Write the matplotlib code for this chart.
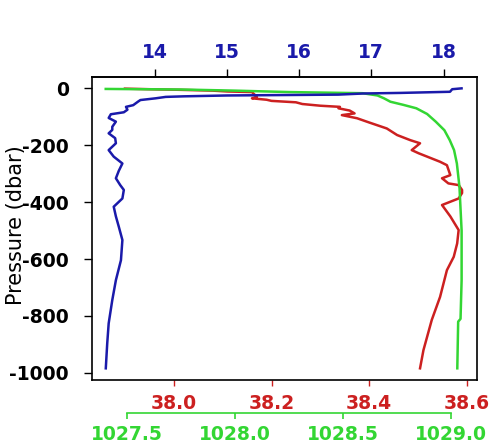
import matplotlib
matplotlib.use("Agg")
from matplotlib import pyplot as plt

plt.rcParams['axes.unicode_minus'] = False

# temperature profile (top axis)
temp_pres = [0, -3, -12, -16, -18, -22, -25, -28, -30, -35, -41, -46, -59, -65, -75,
             -84, -91, -104, -117, -135, -146, -158, -175, -193, -217, -240, -264,
             -290, -316, -340, -357, -387, -416, -450, -486, -533, -604, -674, -744,
             -826, -896, -984]
temp = [18.25, 18.12, 18.09, 17.4, 16.89, 16.54, 15.0, 14.4, 14.15, 14.01, 13.80,
        13.77, 13.70, 13.60, 13.62, 13.57, 13.39, 13.36, 13.46, 13.41, 13.41, 13.36,
        13.45, 13.46, 13.36, 13.43, 13.55, 13.50, 13.46, 13.52, 13.57, 13.55, 13.43,
        13.46, 13.50, 13.55, 13.53, 13.46, 13.41, 13.36, 13.34, 13.32]

# salinity profile (first bottom axis)
sal_pres = [-1, -3, -5, -8, -11, -13, -30, -35, -40, -44, -49, -55, -61, -65, -70,
            -78, -88, -94, -105, -120, -141, -164, -182, -193, -217, -228, -258,
            -270, -305, -316, -334, -340, -357, -368, -387, -410, -450, -498, -545,
            -592, -639, -733, -814, -920, -984]
sal = [37.90, 37.95, 38.01, 38.08, 38.11, 38.16, 38.17, 38.16, 38.19, 38.20, 38.25,
       38.263, 38.30, 38.34, 38.337, 38.36, 38.37, 38.344, 38.375, 38.40, 38.436,
       38.457, 38.484, 38.504, 38.487, 38.501, 38.545, 38.559, 38.566, 38.549,
       38.562, 38.583, 38.590, 38.59, 38.583, 38.549, 38.566, 38.583, 38.58, 38.573,
       38.559, 38.545, 38.528, 38.511, 38.504]

# density profile (second bottom axis)
dens_pres = [-2, -4, -8, -13, -17, -25, -35, -47, -58, -70, -90, -117, -147, -182,
             -217, -264, -346, -500, -674, -810, -820, -984]
dens = [1027.40, 1027.75, 1028.0, 1028.25, 1028.59, 1028.66, 1028.69, 1028.72,
        1028.78, 1028.84, 1028.89, 1028.93, 1028.97, 1028.995, 1029.015, 1029.028,
        1029.04, 1029.05, 1029.05, 1029.045, 1029.034, 1029.03]

pres_ticks = [0, -200, -400, -600, -800, -1000]
temp_ticks = [14, 15, 16, 17, 18]
sal_ticks = [38.0, 38.2, 38.4, 38.6]
dens_ticks = [1027.5, 1028.0, 1028.5, 1029.0]

blue = '#1a1aaa'
red = '#cc2020'
green = '#33d633'
fs = 13.5

fig = plt.figure(figsize=(4.91, 4.45), dpi=100)
ax = fig.add_axes([0.1868, 0.1461, 0.7841, 0.6809])

# salinity on the host axes
ax.plot(sal, sal_pres, color=red, lw=1.8)
ax.set_xlim(37.832, 38.62)
ax.set_ylim(-1025, 40)
ax.set_xticks(sal_ticks)
ax.set_xticklabels(['%.1f' % s for s in sal_ticks])
ax.set_yticks(pres_ticks)
ax.set_yticklabels([str(p) for p in pres_ticks])
ax.tick_params(axis='x', colors=red, length=4.5, width=1, pad=5.5)
ax.tick_params(axis='y', colors='black', length=5.5, width=1, pad=11)
for lab in ax.get_xticklabels() + ax.get_yticklabels():
    lab.set_fontsize(fs)
    lab.set_fontweight('bold')
for sp in ax.spines.values():
    sp.set_color('black')
    sp.set_linewidth(1.2)
ax.set_ylabel('Pressure (dbar)', fontsize=15)
ax.yaxis.set_label_coords(-0.17, 0.51)

# density, detached axis below
ax_d = ax.twiny()
ax_d.plot(dens, dens_pres, color=green, lw=1.8)
ax_d.set_xlim(1027.335, 1029.12)
ax_d.xaxis.set_ticks_position('bottom')
ax_d.xaxis.set_label_position('bottom')
for name in ['top', 'left', 'right']:
    ax_d.spines[name].set_visible(False)
ax_d.spines['bottom'].set_position(('outward', 23.5))
ax_d.spines['bottom'].set_bounds(1027.5, 1029.0)
ax_d.spines['bottom'].set_color(green)
ax_d.spines['bottom'].set_linewidth(1.2)
ax_d.set_xticks(dens_ticks)
ax_d.set_xticklabels(['%.1f' % d for d in dens_ticks])
ax_d.tick_params(axis='x', colors=green, length=4.5, width=1.2, pad=4.5)
for lab in ax_d.get_xticklabels():
    lab.set_fontsize(fs)
    lab.set_fontweight('bold')

# temperature on top
ax_t = ax.twiny()
ax_t.plot(temp, temp_pres, color=blue, lw=1.8)
ax_t.set_xlim(13.125, 18.46)
ax_t.set_xticks(temp_ticks)
ax_t.tick_params(axis='x', colors='black', length=5.5, width=1, pad=5.5)
for lab in ax_t.get_xticklabels():
    lab.set_fontsize(fs)
    lab.set_fontweight('bold')
    lab.set_color(blue)
for name in ['bottom', 'left', 'right']:
    ax_t.spines[name].set_visible(False)
ax_t.spines['top'].set_linewidth(1.2)

fig.savefig('out.png', dpi=100)
